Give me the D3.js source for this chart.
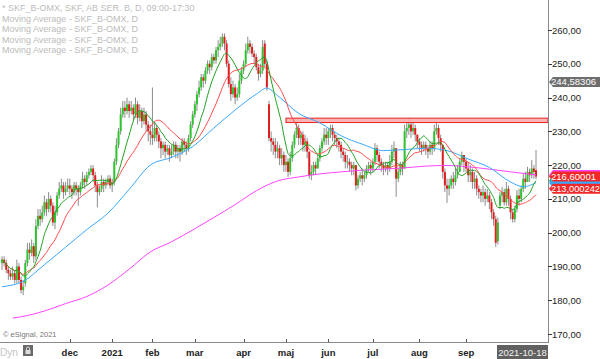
<!DOCTYPE html>
<html><head><meta charset="utf-8">
<script src="https://cdn.jsdelivr.net/npm/d3@7"></script>
<style>
body{margin:0;background:#fff}
svg{display:block;font-family:"Liberation Sans",Arial,sans-serif}
</style></head><body>
<div id="chart"></div>
<script>
const WIDTH = 600, HEIGHT = 359

// trading days, Oct 16 2020 -> Oct 18 2021 (Stockholm holidays left out)
const firstDay = "2020-10-16", lastDay = "2021-10-18"
const holidays = ["2020-12-24","2020-12-25","2020-12-31","2021-01-01","2021-01-06","2021-04-02","2021-04-05","2021-05-13","2021-06-25"]

const open = [191,192,191,189,188,187,188,186,190,186,183,
 185,191,195,194,196,193,202,205,204,206,209,207,210,208,203,206,211,213,214,212,213,
 214,213,212,214,213,212,214,216,215,217,218,219,217,214,212,213,215,214,215,216,
 214,215,221,226,230,235,237,236,238,236,237,235,238,234,236,233,235,232,230,
 229,228,231,229,227,225,226,224,225,223,224,226,224,225,224,227,226,225,228,232,
 235,238,241,243,246,245,248,250,249,252,251,254,255,256,258,256,250,244,241,243,240,241,245,
 248,250,254,256,255,253,252,249,247,248,256,250,238,228,227,226,224,225,222,223,
 220,221,218,222,226,229,231,228,229,226,227,224,217,218,220,219,222,225,227,229,
 228,230,231,229,228,227,226,224,223,221,221,220,219,220,214,216,217,216,217,219,220,
 219,221,225,223,221,220,219,220,219,221,224,225,216,218,220,219,230,231,232,230,231,229,
 227,226,225,226,225,224,226,225,230,231,228,226,218,214,213,214,216,215,217,218,221,223,
 221,219,217,218,215,216,213,212,211,212,210,211,209,206,204,197.5,208,211,212,209,213,210,
 206,204,207,211,210,213,216,215,218,217,219,218.5]
const close = [192,191,189,188,187,188,186,190,186,183,184,
 191,195,194,196,193,202,205,204,206,209,207,210,208,203,206,211,213,214,212,213,214,
 213,212,214,213,212,214,216,215,217,218,219,217,214,212,213,215,214,215,216,214,
 215,221,226,230,235,237,236,238,236,237,235,238,234,236,233,235,232,230,229,
 228,231,229,227,225,226,224,225,223,224,226,224,225,224,227,226,225,228,232,235,
 238,241,243,246,245,248,250,249,252,251,254,255,256,258,256,250,244,241,243,240,241,245,248,
 250,254,256,255,253,252,249,247,248,255,250,243,228,227,226,224,225,222,223,220,
 221,218,222,226,229,231,228,229,226,227,224,217,218,220,219,222,225,227,229,228,
 230,231,229,228,227,226,224,223,221,221,220,219,220,214,216,217,216,217,219,220,219,
 221,225,223,221,220,219,220,219,221,224,225,216,218,220,219,230,231,232,230,231,229,227,
 226,225,226,225,224,226,225,230,231,228,226,218,214,213,214,216,215,217,218,221,223,221,
 219,217,218,215,216,213,212,211,212,210,211,209,206,204,197,203,211,212,209,213,210,206,
 204,207,211,210,213,216,215,218,217,219,218,216.60001]
const high = [193,193,192,190,189,190,189,192,191,187,186,
 192,197,197,198,197,204,207,207,208,211,210,212,211,209,208,212,215,216,215,215,216,
 216,214,215,215,214,215,218,217,218,219,220,220,218,215,214,217,216,216,217,217,
 216,222,228,231,237,239,239,240,239,239,238,240,239,238,237,237,236,233,232,
 243,233,232,230,228,227,227,226,226,226,227,227,226,226,228,228,227,229,233,236,
 239,242,245,247,247,249,251,251,253,253,255,257,258,259,259,257,251,246,245,244,243,247,249,
 251,256,258,257,256,254,253,250,250,257,257,251,239,230,228,228,227,226,225,224,
 223,222,224,227,230,233,232,230,230,229,228,224,220,221,221,223,226,228,231,231,
 231,232,232,230,229,228,227,225,224,223,222,221,221,220,217,218,219,218,220,221,221,
 222,226.5,226,224,222,221,221,221,223,226,227,225,219,221,221,232,233,234,233,233,232,229,
 228,227,227,227,226,227,227,232,233,232,229,226,219,216,216,217,218,219,220,222,224,223,
 222,221,220,219,218,217,214,213,214,213,213,212,210,207,205,204.5,212,213.5,213,215,214,211,
 207,208,212.6,213,214,217.7,218,219.5,219,221.5,220,224.5]
const low = [189,190,188,186,186,186,185,185,185,182,181.5,
 184,190,192,193,191,192,201,202,203,205,205,206,206,202,201,205,210,212,210,211,212,
 211,210,211,211,208,211,213,213,214,216,217,215,212,207.5,211,212,212,213,214,213,
 212,214,220,225,229,234,234,235,234,235,233,234,232,233,231,232,230,227,226,
 226,227,227,225,222,223,222,223,221,222,223,222,222,221,223,224,223,224,227,231,
 234,236,240,242,243,244,247,247,248,250,250,252,254,255,254,249,243,239,240,238,239,240,244,
 247,249,253,253,252,250,248,245,246,247,249,242,227,224,223,222,222,220,220,218,
 218,216.5,217,221,225,228,226,226,224,224,222,216,215.5,217,217,219,221,224,226,226,
 226,228,227,226,225,224,222,221,219,219,218,217,217,212.5,213,215,214,215,216,218,217,
 218,220,221,219,218,217,218,217,218,220,222,210.6,215,217,217,219,228,229,228,229,227,225,
 224,223,224,223,222,223,223,224,229,226,224,216,212,208.8,211,213,213,214,216,218,220,218,
 218,215,215,213,213,211,210,209,209,208,209,207,204,202,195.8,196.5,207,209,208,208,208,204,
 203,203,206,208,209,212,213,215,215,216,216,215.8]

// 50 and 200 day averages (bar index, value)
const ma50Idx = [0,10,20,30,40,50,60,70,80,90,100,110,120,125,130,140,150,160,170,180,190,200,210,220,230,240,246,252]
const ma50Val = [184,185.6,190.5,195.7,200.9,205.8,212.8,220,222.3,225.5,231,236.3,241,242.8,240.6,235.3,232.5,228.7,226.2,224.3,224.6,225,224.3,221.8,219.3,215,213.6,214.8]
const ma200Idx = [5,10,20,30,40,50,60,70,80,90,100,110,120,130,140,150,160,170,180,190,200,210,220,230,240,252]
const ma200Val = [174.7,175.2,176.8,179,181.1,184.5,189.2,194.3,197.3,200.8,204.5,208.3,212.4,215.3,216.5,217.4,218,218.5,218.8,219.2,219.7,219.9,219.5,218.8,218,217.1]

// resistance band
const zoneStart = 134, zoneLow = 232.6, zoneHigh = 233.9

const yTicks = [170,180,190,200,210,220,230,240,250,260]
const monthNames = ["dec","2021","feb","mar","apr","maj","jun","jul","aug","sep"]
const legendLines = ["* SKF_B-OMX, SKF, AB SER. B, D, 09:00-17:30","Moving Average - SKF_B-OMX, D","Moving Average - SKF_B-OMX, D","Moving Average - SKF_B-OMX, D","Moving Average - SKF_B-OMX, D"]
const grayLevel = 244.58306, ma20Label = 213.000242

function draw() {
    const PLOT_R = 548, PLOT_B = 342

    const fmt = d3.utcFormat("%Y-%m-%d")
    const dates = d3.utcDay.range(new Date(firstDay), d3.utcDay.offset(new Date(lastDay), 1))
        .filter(d => d.getUTCDay() % 6 != 0 && !holidays.includes(fmt(d)))
    const n = Math.min(dates.length, close.length)
    const idx = d3.range(n)

    const svg = d3.select('#chart').append("svg").attr("width", WIDTH).attr("height", HEIGHT)

    const x = d3.scalePoint().domain(idx).range([2, 536])
    const y = d3.scaleLinear().domain([170, 260]).range([334, 30])

    svg.append("clipPath").attr("id", "clip").append("rect").attr("width", PLOT_R).attr("height", PLOT_B)
    const plot = svg.append("g").attr("clip-path", "url(#clip)")

    // legend text
    legendLines.forEach((t, i) => {
        svg.append("text").attr("x", 2).attr("y", 11 + i * 10.6).attr("font-size", 9).attr("fill", "#bcbcbc").text(t)
    })

    // candles
    plot.selectAll(".wick").data(idx).join("line")
        .attr("x1", i => x(i)).attr("x2", i => x(i))
        .attr("y1", i => y(high[i])).attr("y2", i => y(low[i]))
        .attr("stroke", "#8c8c8c").attr("stroke-width", 1)
    plot.selectAll(".body").data(idx).join("rect")
        .attr("x", i => x(i) - 1).attr("width", 2)
        .attr("y", i => y(Math.max(open[i], close[i])))
        .attr("height", i => Math.max(1, Math.abs(y(open[i]) - y(close[i]))))
        .attr("fill", i => close[i] >= open[i] ? "#2ec42e" : "#e01e1e")

    // resistance band
    plot.append("rect").attr("x", x(zoneStart)).attr("y", y(zoneHigh))
        .attr("width", PLOT_R - x(zoneStart)).attr("height", y(zoneLow) - y(zoneHigh))
        .attr("fill", "#f7b5b5").attr("stroke", "#ee2020").attr("stroke-width", 1)

    // moving averages
    const sma = (arr, len) => arr.slice(0, n).map((_, i) => d3.mean(arr.slice(Math.max(0, i - len + 1), i + 1)))
    const ma10 = sma(close, 10), ma20 = sma(close, 20)
    const line = d3.line().x(d => x(d[0])).y(d => y(d[1])).curve(d3.curveMonotoneX)
    const series = [
        [ma200Idx.map((d, k) => [d, ma200Val[k]]), "#ff44ff"],
        [ma50Idx.map((d, k) => [d, ma50Val[k]]), "#3aa8ff"],
        [idx.map(i => [i, ma20[i]]), "#ff4a4a"],
        [idx.map(i => [i, ma10[i]]), "#22a022"]
    ]
    series.forEach(s => {
        plot.append("path").datum(s[0]).attr("d", line).attr("fill", "none").attr("stroke", s[1]).attr("stroke-width", 1)
    })

    // right axis
    svg.append("line").attr("x1", PLOT_R + .5).attr("x2", PLOT_R + .5).attr("y1", 0).attr("y2", PLOT_B).attr("stroke", "#8a8a8a")
    yTicks.forEach(v => {
        svg.append("line").attr("x1", PLOT_R).attr("x2", PLOT_R + 4).attr("y1", Math.round(y(v)) + .5).attr("y2", Math.round(y(v)) + .5).attr("stroke", "#333")
        svg.append("text").attr("x", PLOT_R + 4).attr("y", y(v) + 3.5).attr("font-size", 9.5).attr("fill", "#222")
            .text(d3.format(".2f")(v).replace(".", ","))
    })

    // price tags on the right axis
    const tag = (v, fill, txt, txtColor) => {
        const yc = y(v)
        const g = svg.append("g")
        g.append("path").attr("d", `M${PLOT_R + 1},${yc} L${PLOT_R + 5},${yc - 5} L600,${yc - 5} L600,${yc + 5} L${PLOT_R + 5},${yc + 5} Z`).attr("fill", fill)
        if (txt) g.append("text").attr("x", PLOT_R + 3).attr("y", yc + 3.3).attr("font-size", 9)
            .attr("textLength", Math.min(49, txt.length * 5)).attr("lengthAdjust", "spacingAndGlyphs")
            .attr("fill", txtColor).text(txt)
    }
    const comma = v => String(v).replace(".", ",")
    tag(grayLevel, "#6e6e6e", comma(grayLevel), "#fff")
    tag(ma200Val[ma200Val.length - 1], "#ff44ff", "", "#fff")
    tag(ma10[n - 1], "#22a022", "", "#fff")
    tag(ma50Val[ma50Val.length - 1], "#3aa8ff", "", "#fff")
    tag(ma20Label, "#f02828", comma(ma20Label), "#fff")
    tag(close[n - 1], "#f02828", comma(close[n - 1]), "#fff")

    // bottom axis
    svg.append("line").attr("x1", 0).attr("x2", PLOT_R + 1).attr("y1", PLOT_B + .5).attr("y2", PLOT_B + .5).attr("stroke", "#8a8a8a")
    const monthStarts = idx.filter(i => i > 0 && dates[i].getUTCMonth() != dates[i - 1].getUTCMonth()).slice(1)
    monthStarts.forEach((i, k) => {
        if (k >= monthNames.length) return
        svg.append("line").attr("x1", Math.round(x(i)) + .5).attr("x2", Math.round(x(i)) + .5).attr("y1", PLOT_B - 3).attr("y2", PLOT_B).attr("stroke", "#555")
        svg.append("text").attr("x", x(i)).attr("y", 356).attr("text-anchor", "middle").attr("font-size", 9.5)
            .attr("font-weight", "bold").attr("fill", "#222").text(monthNames[k])
    })

    // last date box
    svg.append("rect").attr("x", 497).attr("y", 345).attr("width", 51).attr("height", 14).attr("fill", "#616161")
    svg.append("text").attr("x", 522.5).attr("y", 356).attr("text-anchor", "middle").attr("font-size", 9.5).attr("fill", "#f2f2f2").text(fmt(dates[n - 1]))

    // footer bits
    svg.append("text").attr("x", 3).attr("y", 337).attr("font-size", 7.5).attr("fill", "#777").text("© eSignal, 2021")
    svg.append("text").attr("x", 0).attr("y", 356).attr("font-size", 10).attr("fill", "#c4c4c4").text("Dyn")
    svg.append("rect").attr("x", 23).attr("y", 345).attr("width", 10).attr("height", 11).attr("fill", "#6a6a6a")
    svg.append("rect").attr("x", 25.5).attr("y", 350).attr("width", 5).attr("height", 4).attr("fill", "#ddd")
    svg.append("path").attr("d", "M26.5,350 v-1.5 a1.5,1.5 0 0 1 3,0 v1.5").attr("fill", "none").attr("stroke", "#ddd")
}

draw()
</script>
</body></html>
